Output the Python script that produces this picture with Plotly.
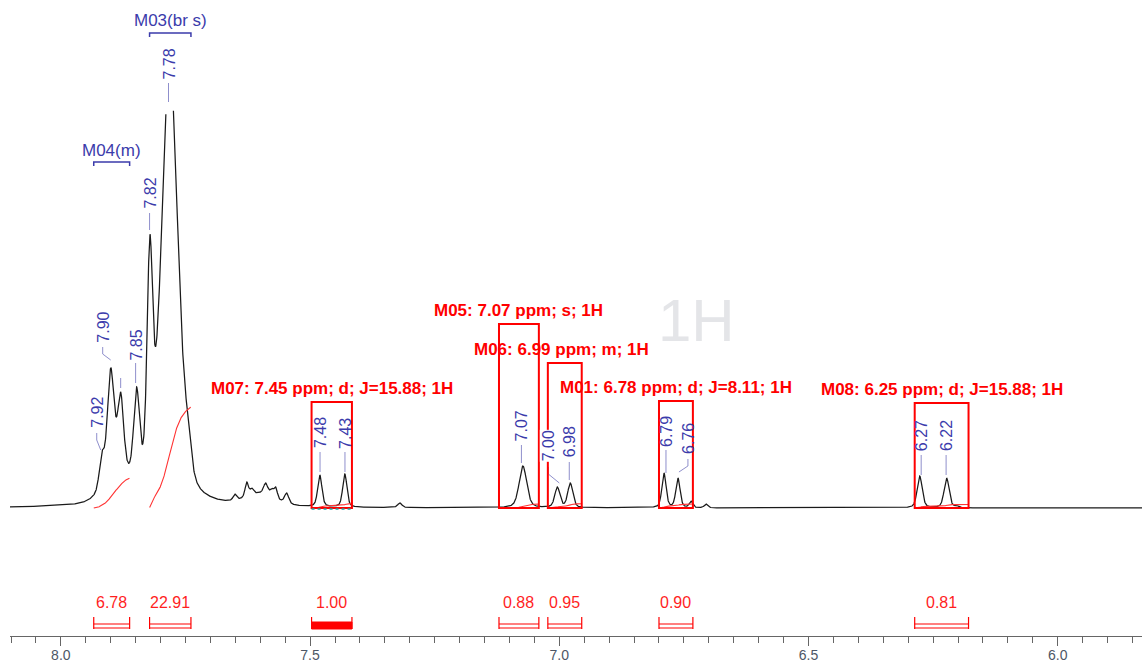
import numpy as np
import plotly.graph_objects as go

# ---------------- data ----------------
# resolved peaks: position (ppm), apex height above baseline (display units), half width (ppm)
peak_ppm = [7.918, 7.900, 7.880, 7.848, 7.8215, 7.7815, 7.745,
            7.651, 7.627, 7.617, 7.589, 7.577, 7.569, 7.547,
            7.4805, 7.4303, 7.320,
            7.073, 7.004, 6.978,
            6.790, 6.762, 6.736, 6.706,
            6.277, 6.223, 6.203]
peak_apex = [56, 140, 116, 121, 273, 442, 91,
             14, 26, 20, 25, 20, 21, 15,
             33, 34, 5,
             42, 21, 25,
             35, 30, 7, 4,
             32, 30, 3]
peak_hwhm = [0.006, 0.008, 0.007, 0.007, 0.0065, 0.020, 0.008,
             0.004, 0.004, 0.004, 0.005, 0.004, 0.004, 0.005,
             0.005, 0.005, 0.005,
             0.009, 0.006, 0.006,
             0.005, 0.005, 0.004, 0.004,
             0.006, 0.006, 0.004]
# broad underlying humps
broad_ppm = [7.885, 7.600]
broad_amp = [25, 12]
broad_hwhm = [0.030, 0.035]
display_limit = 398  # trace is cut above this level in the reference

# peak pick labels
label_text = ["7.92", "7.90", "7.85", "7.82", "7.78", "7.48", "7.43",
              "7.07", "7.00", "6.98", "6.79", "6.76", "6.27", "6.22"]
unlabeled_pick = [7.88]

# multiplets (boxed)
mult_name = ["M07", "M05", "M06", "M01", "M08"]
mult_shift = [7.45, 7.07, 6.99, 6.78, 6.25]
mult_kind = ["d", "s", "m", "d", "d"]
mult_J = [15.88, None, None, 8.11, 15.88]
mult_nH = [1, 1, 1, 1, 1]
mult_int_index = [2, 3, 4, 5, 6]

# multiplets (bracketed, no box)
bracket_name = ["M04(m)", "M03(br s)"]
bracket_int_index = [0, 1]

# integrals
int_value = [6.78, 22.91, 1.00, 0.88, 0.95, 0.90, 0.81]
int_from = [7.934, 7.822, 7.497, 7.121, 7.023, 6.800, 6.287]
int_to = [7.862, 7.739, 7.416, 7.041, 6.955, 6.732, 6.179]
int_reference = 2

# ---------------- layout constants ----------------
X_LEFT, X_RIGHT = 8.102, 5.831
BASE_PX = 508            # pixel row of the baseline
PLOT_BOTTOM_PX = 636
PX_PER_PPM = 1132 / (X_LEFT - X_RIGHT)
INT_SCALE = 4.4          # display units per integral unit


def v(ypx):
    return BASE_PX - ypx


# label placement (pixel rows) and offsets
label_cy = [412, 327, 345, 193, 64, 433, 433, 426, 446, 442, 431, 438, 436, 436]
label_top = [433, 347, 363, 213, 83, 452, 452, 445, 467, 462, 450, 459, 455, 455]
label_bot = [450, 360, 383, 230, 102, 472, 472, 463, 483, 480, 473, 472, 475, 475]
label_dx = [-4, -8, 0, -1, -2, 0, 0, -3, -11, 0, 2, 9, -2, -2]
label_kink = [1, 1, 0, 0, 0, 0, 0, 0, 1, 0, 0, 1, 0, 0]
label_bg = [0, 0, 0, 0, 0, 0, 0, 0, 1, 0, 0, 0, 0, 0]
box_top_px = [402, 324, 363, 401, 403]
mult_label_dx = [0, 0, -3, 0, 0]
bracket_label_px = [150, 20]
bracket_line_px = [162, 33]

FONT = "Liberation Sans, Arial, sans-serif"
BLUE = "#3b3bab"
BLUE_LIGHT = "#8f8fcc"
RED = "#ff0000"
RED_TXT = "#ff1f1f"


# ---------------- spectrum ----------------
def pv(x, x0, w, eta=0.4):
    r2 = ((x - x0) / w) ** 2
    return eta / (1 + r2) + (1 - eta) * np.exp(-np.log(2) * r2)


P = np.array(peak_ppm)
W = np.array(peak_hwhm)
bg_at_peaks = sum(a * pv(P, c, w) for c, a, w in zip(broad_ppm, broad_amp, broad_hwhm))
A = pv(P[:, None], P[None, :], W[None, :])
amps = np.clip(np.linalg.solve(A, np.array(peak_apex, float) - bg_at_peaks), 0, None)

grid = np.linspace(X_LEFT, X_RIGHT, 6000)
spec = np.zeros_like(grid)
for c, a, w in zip(P, amps, W):
    spec += a * pv(grid, c, w)
for c, a, w in zip(broad_ppm, broad_amp, broad_hwhm):
    spec += a * pv(grid, c, w)
spec_shown = np.where(spec > display_limit, np.nan, spec)

fig = go.Figure()
fig.add_trace(go.Scatter(x=grid, y=spec_shown, mode="lines",
                         line=dict(color="#1a1a1a", width=1.25),
                         hoverinfo="skip", connectgaps=False))

# integral curves
for val, hi, lo in zip(int_value, int_from, int_to):
    m = (grid <= hi) & (grid >= lo)
    cs = np.cumsum(spec[m])
    curve = cs / cs[-1] * val * INT_SCALE
    fig.add_trace(go.Scatter(x=grid[m], y=curve, mode="lines",
                             line=dict(color="#ff3333", width=1.1),
                             hoverinfo="skip"))

shapes = []
annotations = []

# peak pick labels and connectors
for i, t in enumerate(label_text):
    xp = float(t)
    xl = xp - label_dx[i] / PX_PER_PPM
    ann = dict(x=xp, y=v(label_cy[i]), xref="x", yref="y", text=t, showarrow=False,
               textangle=-90, xanchor="center", yanchor="middle", xshift=label_dx[i],
               font=dict(family=FONT, size=16, color=BLUE))
    if label_bg[i]:
        ann.update(bgcolor="white", borderpad=0)
    annotations.append(ann)
    if label_kink[i]:
        path = "M {a},{b} L {a},{c} L {d},{e}".format(
            a=xl, b=v(label_top[i]), c=v(label_top[i] + 7), d=xp, e=v(label_bot[i]))
        shapes.append(dict(type="path", path=path, xref="x", yref="y",
                           line=dict(color=BLUE_LIGHT, width=1)))
    else:
        shapes.append(dict(type="line", x0=xl, x1=xl, y0=v(label_top[i]), y1=v(label_bot[i]),
                           xref="x", yref="y", line=dict(color=BLUE_LIGHT, width=1)))
for xp in unlabeled_pick:
    shapes.append(dict(type="line", x0=xp, x1=xp, y0=v(378), y1=v(388), xref="x", yref="y",
                       line=dict(color=BLUE_LIGHT, width=1)))

# multiplet boxes and labels
for k, name in enumerate(mult_name):
    j = mult_int_index[k]
    hi, lo = int_from[j], int_to[j]
    top = v(box_top_px[k])
    shapes.append(dict(type="rect", x0=hi, x1=lo, y0=0, y1=top, xref="x", yref="y",
                       line=dict(color=RED, width=2), fillcolor="rgba(0,0,0,0)"))
    parts = [f"{name}: {mult_shift[k]:.2f} ppm", mult_kind[k]]
    if mult_J[k] is not None:
        parts.append(f"J={mult_J[k]:.2f}")
    parts.append(f"{mult_nH[k]}H")
    annotations.append(dict(x=(hi + lo) / 2, y=top, xref="x", yref="y", text="; ".join(parts),
                            showarrow=False, xanchor="center", yanchor="bottom", yshift=2,
                            xshift=mult_label_dx[k],
                            font=dict(family=FONT, size=17, color=RED, weight="bold")))
    if j == int_reference:
        shapes.append(dict(type="line", x0=hi, x1=lo, y0=-1, y1=-1, xref="x", yref="y",
                           line=dict(color="#22a0a0", width=1.5, dash="dot")))

# bracketed multiplets
for k, name in enumerate(bracket_name):
    j = bracket_int_index[k]
    hi, lo = int_from[j], int_to[j]
    yl = v(bracket_line_px[k])
    path = f"M {hi},{yl - 4} L {hi},{yl} L {lo},{yl} L {lo},{yl - 4}"
    shapes.append(dict(type="path", path=path, xref="x", yref="y",
                       line=dict(color=BLUE, width=1.5)))
    annotations.append(dict(x=(hi + lo) / 2, y=v(bracket_label_px[k]), xref="x", yref="y",
                            text=name, showarrow=False, xanchor="center", yanchor="middle",
                            font=dict(family=FONT, size=17, color=BLUE)))

# integral brackets and values
for j, val in enumerate(int_value):
    hi, lo = int_from[j], int_to[j]
    for xx in (hi, lo):
        shapes.append(dict(type="line", x0=xx, x1=xx, y0=v(617), y1=v(629), xref="x", yref="y",
                           line=dict(color=RED, width=1.2)))
    if j == int_reference:
        shapes.append(dict(type="rect", x0=hi, x1=lo, y0=v(622), y1=v(629), xref="x", yref="y",
                           line=dict(color=RED, width=1), fillcolor=RED))
    else:
        for yy in (624, 628):
            shapes.append(dict(type="line", x0=hi, x1=lo, y0=v(yy), y1=v(yy), xref="x", yref="y",
                               line=dict(color=RED, width=1.1)))
    annotations.append(dict(x=(hi + lo) / 2, y=v(602), xref="x", yref="y", text=f"{val:.2f}",
                            showarrow=False, xanchor="center", yanchor="middle",
                            font=dict(family=FONT, size=16, color=RED_TXT)))

# nucleus watermark
annotations.append(dict(x=6.724, y=v(320), xref="x", yref="y", text="1H", showarrow=False,
                        xanchor="center", yanchor="middle",
                        font=dict(family=FONT, size=60, color="#e4e5e8")))

fig.update_layout(
    width=1142, height=665,
    margin=dict(l=10, r=0, t=0, b=665 - PLOT_BOTTOM_PX, autoexpand=False),
    plot_bgcolor="white", paper_bgcolor="white", showlegend=False,
    shapes=shapes, annotations=annotations,
    xaxis=dict(range=[X_LEFT, X_RIGHT], showgrid=False, zeroline=False,
               showline=True, linecolor="#666666", linewidth=1,
               ticks="outside", ticklen=9, tickwidth=1, tickcolor="#666666",
               tick0=0, dtick=0.5, tickformat=".1f", ticklabelstandoff=-3,
               tickfont=dict(family=FONT, size=14, color="#4d5766"),
               minor=dict(ticks="outside", ticklen=6, tick0=0, dtick=0.05,
                          tickcolor="#666666", tickwidth=1, showgrid=False),
               automargin=False),
    yaxis=dict(range=[v(PLOT_BOTTOM_PX), v(0)], visible=False, automargin=False),
)

fig.write_html("out.html", config={"displayModeBar": False},
               post_script="document.body.style.margin='0';document.body.style.overflow='hidden';")
